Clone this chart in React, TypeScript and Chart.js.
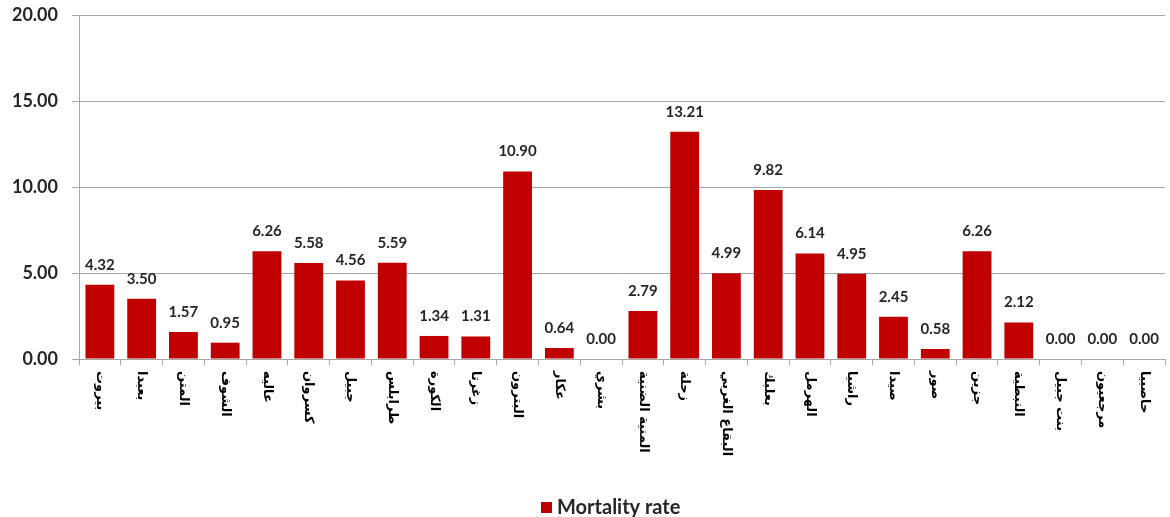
import React, { useEffect, useRef } from "react";
import { Chart, registerables } from "chart.js";

Chart.register(...registerables);

const categories: string[] = [
  "بيروت", "بعبدا", "المتن", "الشوف", "عاليه", "كسروان", "جبيل", "طرابلس",
  "الكورة", "زغرتا", "البترون", "عكار", "بشري", "المنية الضنية", "زحلة",
  "البقاع الغربي", "بعلبك", "الهرمل", "راشيا", "صيدا", "صور", "جزين",
  "النبطية", "بنت جبيل", "مرجعيون", "حاصبيا",
];

const mortalityRate: number[] = [
  4.32, 3.5, 1.57, 0.95, 6.26, 5.58, 4.56, 5.59, 1.34, 1.31, 10.9, 0.64, 0.0,
  2.79, 13.21, 4.99, 9.82, 6.14, 4.95, 2.45, 0.58, 6.26, 2.12, 0.0, 0.0, 0.0,
];

const seriesName = "Mortality rate";
const yTicks: number[] = [0, 5, 10, 15, 20];

const BAR_COLOR = "#C00000";
const LATIN_FONT = "Lato, 'Open Sans', sans-serif";
const ARABIC_FONT = "'DejaVu Sans', 'Noto Sans', sans-serif";

const labelsPlugin = {
  id: "customLabels",
  afterDatasetsDraw(chart: any) {
    const ctx = chart.ctx;
    const meta = chart.getDatasetMeta(0);
    ctx.save();
    ctx.fillStyle = "#262626";
    ctx.font = `bold 15px ${LATIN_FONT}`;
    ctx.textAlign = "center";
    ctx.textBaseline = "middle";
    meta.data.forEach((bar: any, i: number) => {
      ctx.fillText(mortalityRate[i].toFixed(2), bar.x, bar.y - 20);
    });
    ctx.restore();
  },
  afterDraw(chart: any) {
    const ctx = chart.ctx;
    const xs = chart.scales.x;
    ctx.save();
    ctx.fillStyle = "#000000";
    ctx.font = `bold 13px ${ARABIC_FONT}`;
    ctx.textAlign = "left";
    ctx.textBaseline = "middle";
    categories.forEach((c, i) => {
      const x = xs.getPixelForValue(i);
      ctx.save();
      ctx.translate(x, xs.top + 12);
      ctx.rotate(Math.PI / 2);
      ctx.fillText(c, 0, 0);
      ctx.restore();
    });
    // legend
    ctx.fillStyle = BAR_COLOR;
    ctx.fillRect(541, 502, 11, 11);
    ctx.fillStyle = "#262626";
    ctx.font = `bold 20px ${LATIN_FONT}`;
    ctx.textAlign = "left";
    ctx.textBaseline = "middle";
    ctx.fillText(seriesName, 557, 508);
    ctx.restore();
  },
};

export default function App() {
  const ref = useRef<HTMLCanvasElement | null>(null);
  useEffect(() => {
    document.body.style.margin = "0";
    const canvas = ref.current!;
    const chart = new Chart(canvas, {
      type: "bar",
      data: {
        labels: categories,
        datasets: [
          {
            label: seriesName,
            data: mortalityRate,
            backgroundColor: BAR_COLOR,
            barPercentage: 0.69,
            categoryPercentage: 1,
          },
        ],
      },
      options: {
        animation: false,
        responsive: false,
        maintainAspectRatio: false,
        layout: { padding: { top: 15, right: 5, left: 0, bottom: 0 } },
        plugins: { legend: { display: false }, tooltip: { enabled: false } },
        scales: {
          x: {
            offset: true,
            grid: {
              offset: true,
              drawOnChartArea: false,
              drawTicks: true,
              tickLength: 6,
              color: "#a6a6a6",
            },
            border: { color: "#a6a6a6" },
            ticks: { display: false },
            afterFit(scale: any) {
              scale.height = 517 - 359;
              scale.paddingLeft = 0;
              scale.paddingRight = 0;
            },
          },
          y: {
            min: 0,
            max: 20,
            afterBuildTicks(scale: any) {
              scale.ticks = yTicks.map((v) => ({ value: v }));
            },
            grid: { color: "#a6a6a6", tickLength: 7 },
            border: { color: "#a6a6a6" },
            ticks: {
              padding: 14,
              color: "#262626",
              font: { family: LATIN_FONT, size: 18, weight: "bold" },
              callback: (v: any) => Number(v).toFixed(2),
            },
            afterFit(scale: any) {
              scale.width = 79;
              scale.paddingTop = 0;
              scale.paddingBottom = 0;
            },
          },
        },
      },
      plugins: [labelsPlugin],
    });
    return () => chart.destroy();
  }, []);
  return (
    <div style={{ width: 1170, height: 517 }}>
      <canvas ref={ref} width={1170} height={517} />
    </div>
  );
}
